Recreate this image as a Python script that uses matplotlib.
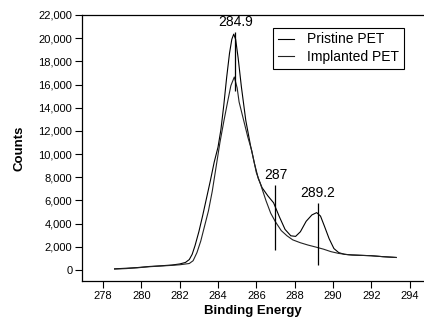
import matplotlib
matplotlib.use('Agg')
import matplotlib.pyplot as plt
from matplotlib.ticker import FuncFormatter

plt.rcParams['font.family'] = ['Liberation Sans', 'DejaVu Sans']

# C1s spectra, counts vs binding energy (eV)
pristine_x = [278.6, 279.2, 279.8, 280.4, 281.0, 281.6, 282.0, 282.3, 282.5, 282.65,
              282.8, 283.0, 283.2, 283.4, 283.6, 283.8, 284.0, 284.15, 284.3, 284.45,
              284.6, 284.72, 284.82, 284.92, 285.05, 285.22, 285.45, 285.7, 285.9, 286.1,
              286.3, 286.6, 286.9, 287.2, 287.5, 287.8, 288.05, 288.3, 288.6, 288.9,
              289.15, 289.35, 289.55, 289.8, 290.05, 290.3, 290.6, 291.0, 291.5, 292.0,
              292.6, 293.3]
pristine_y = [100, 150, 210, 300, 360, 430, 520, 650, 900, 1350,
              2100, 3300, 4700, 6200, 7700, 9300, 10600, 12100, 14200, 16600,
              18700, 19900, 20350, 19900, 18300, 15800, 12900, 10700, 9200, 7900,
              7100, 6400, 5800, 4600, 3500, 2950, 2900, 3300, 4200, 4750,
              4950, 4650, 3800, 2700, 1850, 1500, 1350, 1290, 1260, 1230,
              1150, 1080]

implanted_x = [278.6, 279.2, 279.8, 280.4, 281.0, 281.6, 282.0, 282.5, 282.7, 282.9,
               283.1, 283.3, 283.5, 283.7, 283.9, 284.1, 284.3, 284.5, 284.67, 284.85,
               285.0, 285.1, 285.34, 285.55, 285.76, 286.0, 286.2, 286.5, 286.75, 287.0,
               287.3, 287.6, 287.9, 288.3, 288.7, 289.1, 289.5, 289.9, 290.3, 290.8,
               291.4, 292.0, 292.6, 293.3]
implanted_y = [80, 120, 190, 280, 340, 400, 450, 560, 800, 1500,
               2500, 3800, 5100, 6800, 8900, 11000, 12800, 14500, 15900, 16650,
               15700, 14500, 12900, 11500, 10300, 8400, 7500, 6000, 4900, 4150,
               3400, 2950, 2600, 2350, 2150, 1980, 1800, 1580, 1430, 1320,
               1270, 1230, 1150, 1080]

# peak markers: position, line bottom, line top, label height
peak_pos = [284.9, 287.0, 289.2]
peak_lo = [15400, 1700, 400]
peak_hi = [20500, 7300, 5800]
peak_text_y = [20750, 7550, 6050]

xticks = [278, 280, 282, 284, 286, 288, 290, 292, 294]
yticks = list(range(0, 22001, 2000))

fig = plt.figure(figsize=(4.24, 3.24), dpi=100)
ax = fig.add_axes([82 / 424, 43 / 324, 341 / 424, 266 / 324])

ax.plot(pristine_x, pristine_y, color='black', lw=0.8, label='Pristine PET')
ax.plot(implanted_x, implanted_y, color='#222222', lw=0.8, label='Implanted PET')

for pos, lo, hi, ty in zip(peak_pos, peak_lo, peak_hi, peak_text_y):
    ax.vlines(pos, lo, hi, color='black', lw=0.9)
    ax.text(pos, ty, f'{pos:g}', ha='center', va='bottom', fontsize=10)

ax.set_xlim(276.9, 294.7)
ax.set_ylim(-950, 22000)
ax.set_xticks(xticks)
ax.set_yticks(yticks)
ax.yaxis.set_major_formatter(FuncFormatter(lambda v, p: f'{v:,.0f}'))
ax.tick_params(direction='out', length=5, width=0.8, labelsize=8, pad=2)
ax.spines['right'].set_visible(False)
for s in ['left', 'bottom', 'top']:
    ax.spines[s].set_linewidth(0.9)

ax.set_xlabel('Binding Energy', fontsize=9.5, fontweight='bold', labelpad=3)
ax.set_ylabel('Counts', fontsize=9.5, fontweight='bold', labelpad=9)

ax.legend(loc='upper right', bbox_to_anchor=(0.943, 0.953), borderaxespad=0,
          fontsize=10, fancybox=False, edgecolor='black', framealpha=1,
          handlelength=1.2, handletextpad=0.9, labelspacing=0.25, borderpad=0.35)
ax.get_legend().get_frame().set_linewidth(0.8)

fig.savefig('out.png', dpi=100)
